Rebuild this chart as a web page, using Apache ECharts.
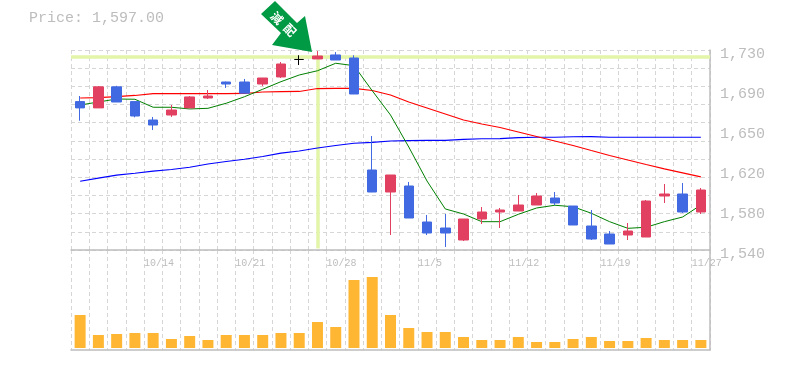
<!DOCTYPE html>
<html>
<head>
<meta charset="utf-8">
<style>html,body{margin:0;padding:0;background:#fff}#c{width:785px;height:370px}</style>
<script src="https://cdn.jsdelivr.net/npm/echarts@6/dist/echarts.min.js"></script>
</head>
<body>
<div id="c"></div>
<script>
const dates = ['10/7','10/8','10/9','10/10','10/14','10/15','10/16','10/17','10/20','10/21','10/22','10/23','10/24','10/27','10/28','10/29','10/30','10/31','11/4','11/5','11/6','11/7','11/10','11/11','11/12','11/13','11/14','11/17','11/18','11/19','11/20','11/21','11/25','11/26','11/27'];
const shownDates = ['10/14','10/21','10/28','11/5','11/12','11/19','11/27'];
const priceTicks = [1540,1578,1616,1654,1692,1730];
const priceMin = 1540, priceMax = 1730;
const highMarkPrice = 1723.8, highMarkDate = '10/27', highMarkLow = 1541.5;
const titleText = 'Price: 1,597.00';
const arrowChars = ['減','配'];
// open, close, low, high
const opens  = [1681,1675,1695,1681,1663.5,1668.25,1675,1684.4,1699.6,1699.6,1697.7,1704.4,1721,1721.5,1725.3,1722.4,1616,1595.1,1600.8,1566.6,1560.9,1549.5,1569.45,1576.1,1577.05,1582.75,1589.4,1581.8,1562.8,1555.2,1554.25,1552.35,1591.3,1593.2,1576.1];
const closes = [1675,1695,1680.6,1667.3,1658.75,1673,1685.4,1686.3,1697.7,1689,1703.4,1716.7,1721,1724.3,1720.5,1688.2,1595.1,1611.25,1570.4,1556.15,1556.15,1569.45,1576.1,1578,1582.75,1591.3,1584.65,1563.75,1550.45,1545.7,1558.05,1586.55,1593.2,1576.1,1597];
const lows   = [1662.8,1675,1680.6,1666,1654,1666.4,1675,1683.5,1694,1689,1695.8,1703.4,1715.75,1721.5,1720.5,1688.2,1595,1554.25,1570.4,1554.25,1542.85,1548.55,1564.7,1560.9,1577,1582.75,1582.75,1563.75,1549.5,1545.7,1549.5,1552.35,1584.65,1575.15,1574.2];
const highs  = [1686.3,1695.8,1696,1681,1666.4,1677.75,1686.3,1692,1700,1702.5,1703.4,1718.6,1725,1729,1728,1725,1648.3,1611.25,1604.6,1573.25,1574.2,1569.45,1580.85,1579.9,1592.25,1594.15,1595.1,1581.8,1578,1558,1565.65,1587.5,1602.7,1603.65,1598.9];
const maShort = [1677.75,1680.6,1683.45,1683.2,1675.6,1675.6,1674,1674.6,1679.4,1685.6,1692.7,1699.9,1706.25,1710.3,1717.4,1715.1,1691.3,1668.25,1637.85,1605.55,1579,1574.2,1566.9,1566.9,1573.9,1579.9,1582.5,1581.1,1574.9,1566.9,1560.6,1561.6,1566.9,1571.35,1582.75];
const maMid = [1684.4,1684.7,1685.8,1686.8,1688.5,1688.5,1688.5,1688.5,1688.5,1688.7,1690.1,1690.4,1690.6,1693.4,1693.6,1693.6,1691.5,1687.25,1680.6,1674.9,1669.2,1663.5,1659.7,1656.4,1652.1,1647.8,1643.55,1639.3,1634.5,1629.8,1625.5,1621.2,1617,1613.2,1609.4];
const maLong = [1605.3,1608.2,1611.1,1612.9,1614.9,1616.5,1618.6,1621.7,1624.1,1626.2,1628.8,1632,1634.05,1636.9,1639.3,1641.4,1642.3,1643.55,1644,1644.2,1644.2,1645,1645.7,1645.9,1646.7,1647.1,1647.1,1647.6,1647.8,1647.1,1647.1,1647.1,1647.1,1647.1,1647.1];
const volumes = [330,130,140,150,150,90,120,80,130,130,130,150,150,260,210,680,710,330,200,160,160,110,80,80,110,60,60,90,110,70,70,100,80,80,80];

const GRAY = '#bdbdbd', DASH = '#d6d6d6', RED = '#e24060', BLUE = '#4169e1', PALE = '#e2f5a8';
const MONO = '"Liberation Mono", monospace';
const candleData = dates.map((d, i) => [opens[i], closes[i], lows[i], highs[i]]);
const edges = dates.concat(['']);
const dashed = {show: true, interval: 0, lineStyle: {color: DASH, width: 1, type: [4, 3]}};
const chart = echarts.init(document.getElementById('c'), null, {renderer: 'canvas'});
chart.setOption({
  animation: false,
  backgroundColor: '#fff',
  title: {text: titleText, left: 29, top: 11, padding: 0,
    textStyle: {fontFamily: MONO, fontSize: 15, fontWeight: 'normal', color: GRAY}},
  grid: [
    {left: 71, top: 50, width: 639, height: 200},
    {left: 71, top: 250, width: 639, height: 100}
  ],
  xAxis: [
    {type: 'category', gridIndex: 0, data: dates, boundaryGap: true, show: false},
    {type: 'category', gridIndex: 0, data: edges, boundaryGap: false, position: 'bottom',
      axisLine: {show: true, onZero: false, lineStyle: {color: GRAY, width: 1.5}},
      axisTick: {show: false}, splitLine: dashed,
      axisLabel: {show: true, hideOverlap: false, showMinLabel: true, showMaxLabel: true, margin: 8, align: 'left',
        interval: (i, v) => shownDates.includes(v),
        fontFamily: MONO, fontSize: 10, color: GRAY}},
    {type: 'category', gridIndex: 1, data: dates, boundaryGap: true, show: false},
    {type: 'category', gridIndex: 1, data: edges, boundaryGap: false, position: 'bottom',
      axisLine: {show: true, onZero: false, lineStyle: {color: GRAY, width: 1.5}},
      axisTick: {show: false}, axisLabel: {show: false}, splitLine: dashed}
  ],
  yAxis: [
    {type: 'value', gridIndex: 0, position: 'right', min: priceMin, max: priceMax, scale: true,
      axisLine: {show: true, onZero: false, lineStyle: {color: GRAY, width: 1.5}},
      axisTick: {show: false}, splitLine: {show: false},
      axisLabel: {show: true, customValues: priceTicks, margin: 10, verticalAlign: 'middle',
        showMinLabel: true, showMaxLabel: true,
        formatter: v => '{t|' + (Math.round(v / 10) * 10).toLocaleString('en-US') + '}',
        rich: {t: {padding: [8, 0, 0, 0], fontFamily: MONO, fontSize: 15, color: GRAY}},
        fontFamily: MONO, fontSize: 15, color: GRAY}},
    {type: 'value', gridIndex: 0, position: 'left', min: 0, max: 11, interval: 1,
      axisLine: {show: false}, axisTick: {show: false}, axisLabel: {show: false},
      splitLine: {show: true, lineStyle: {color: DASH, width: 1, type: [4, 3]}}},
    {type: 'value', gridIndex: 1, position: 'right', min: -20, max: 980,
      axisLine: {show: true, onZero: false, lineStyle: {color: GRAY, width: 1.5}},
      axisTick: {show: false}, axisLabel: {show: false}, splitLine: {show: false}}
  ],
  series: [
    {type: 'line', name: 'high', xAxisIndex: 0, yAxisIndex: 0, data: [], z: 1, silent: true,
      markLine: {z: 1, silent: true, symbol: 'none', animation: false, label: {show: false},
        lineStyle: {color: PALE, width: 3.5, type: 'solid', opacity: 1},
        data: [
          {yAxis: highMarkPrice},
          [{coord: [highMarkDate, highMarkPrice]}, {coord: [highMarkDate, highMarkLow]}]
        ]}},
    {type: 'line', name: 'long', xAxisIndex: 0, yAxisIndex: 0, data: maLong, showSymbol: false, z: 2,
      lineStyle: {color: '#0000ff', width: 1.2}},
    {type: 'line', name: 'mid', xAxisIndex: 0, yAxisIndex: 0, data: maMid, showSymbol: false, z: 2,
      lineStyle: {color: '#ff0000', width: 1.2}},
    {type: 'line', name: 'short', xAxisIndex: 0, yAxisIndex: 0, data: maShort, showSymbol: false, z: 2,
      lineStyle: {color: '#008000', width: 1}},
    {type: 'candlestick', xAxisIndex: 0, yAxisIndex: 0, data: candleData, barWidth: 10, z: 3,
      itemStyle: {color: RED, color0: BLUE, borderColor: RED, borderColor0: BLUE, borderColorDoji: '#000', borderWidth: 1}},
    {type: 'bar', xAxisIndex: 2, yAxisIndex: 2, data: volumes, barWidth: 11, z: 3,
      itemStyle: {color: '#ffb733'}}
  ],
  graphic: [
    {type: 'polygon', z: 10, silent: true,
      shape: {points: [[275,1],[261,14],[281,33],[272,45],[312,52],[305,16],[297,23]]},
      style: {fill: '#009944'}},
    {type: 'text', z: 11, silent: true, x: 277, y: 18, rotation: -Math.PI / 4,
      style: {text: arrowChars[0], fill: '#fff', font: 'bold 12px "Noto Sans CJK JP"', align: 'center', verticalAlign: 'middle'}},
    {type: 'text', z: 11, silent: true, x: 290, y: 30, rotation: -Math.PI / 4,
      style: {text: arrowChars[1], fill: '#fff', font: 'bold 12px "Noto Sans CJK JP"', align: 'center', verticalAlign: 'middle'}}
  ]
});
</script>
</body>
</html>
